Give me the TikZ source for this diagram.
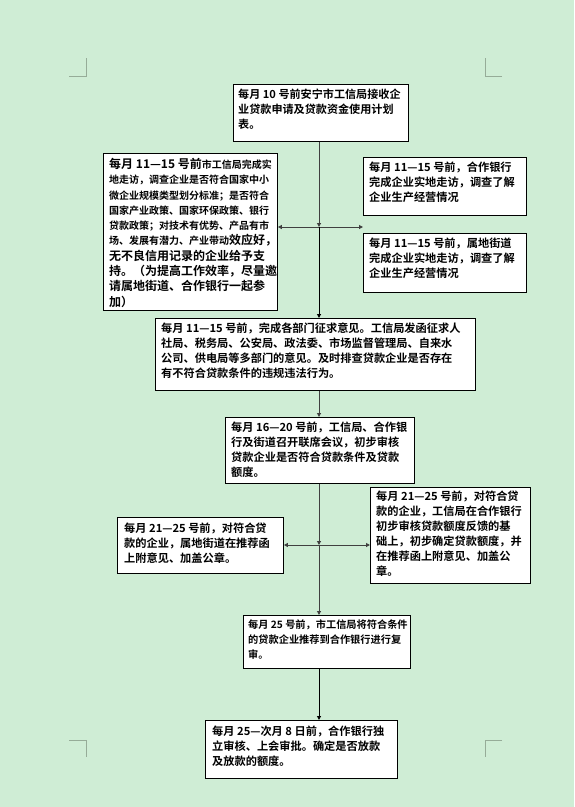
\documentclass[tikz,border=0pt]{standalone}
\usepackage{fontspec}
\newfontfamily\cjk{Noto Sans CJK SC}[BoldFont={Noto Sans CJK SC Bold}]
\usepackage{tikz}
\usetikzlibrary{arrows.meta,positioning,calc}

\definecolor{pagegreen}{RGB}{207,237,213}
\definecolor{markgray}{RGB}{150,172,152}

\begin{document}
\begin{tikzpicture}[
  x=1pt, y=-1pt,
  box/.style={rectangle, draw, line width=0.9pt, fill=white, anchor=north west,
              inner sep=0pt},
  txt/.style={anchor=north west, inner sep=0pt, align=left, text=black,
              font=\cjk\bfseries\fontsize{11.2}{15}\selectfont},
  arrow/.style={-{Triangle[length=4pt,width=4pt]}, line width=1pt, draw=black!75},
  cropmark/.style={draw=markgray, line width=0.6pt}
]
  % page and corner marks
  \fill[pagegreen] (0,0) rectangle (574,807);
  \useasboundingbox (0,0) rectangle (574,807);
  \draw[cropmark] (69,76) -- (86,76) -- (86,58);
  \draw[cropmark] (502,76) -- (485,76) -- (485,58);
  \draw[cropmark] (69,740) -- (86,740) -- (86,757);
  \draw[cropmark] (502,740) -- (485,740) -- (485,757);

  % boxes
  \node[box, minimum width=175pt, minimum height=57pt] (apply) at (233,84) {};
  \node[txt, font=\cjk\bfseries\fontsize{11.1}{15}\selectfont]
    at ([shift={(5pt,-5pt)}]apply.north west)
    {每月 10 号前安宁市工信局接收企\\业贷款申请及贷款资金使用计划\\表。};

  \node[box, minimum width=174pt, minimum height=157pt] (visit) at (103,153) {};
  \node[txt, font=\cjk\bfseries\fontsize{12}{15.3}\selectfont]
    at ([shift={(6pt,-5pt)}]visit.north west)
    {每月 11—15 号前{\fontsize{10}{15.3}\selectfont 市工信局完成实}\\
     {\fontsize{10}{15.3}\selectfont 地走访，调查企业是否符合国家中小}\\
     {\fontsize{10}{15.3}\selectfont 微企业规模类型划分标准；是否符合}\\
     {\fontsize{10}{15.3}\selectfont 国家产业政策、国家环保政策、银行}\\
     {\fontsize{10}{15.3}\selectfont 贷款政策；对技术有优势、产品有市}\\
     {\fontsize{10}{15.3}\selectfont 场、发展有潜力、产业带动}效应好，\\
     无不良信用记录的企业给予支\\
     持。（为提高工作效率，尽量邀\\
     请属地街道、合作银行一起参\\
     加）};

  \node[box, minimum width=163pt, minimum height=58pt] (bank) at (363,157) {};
  \node[txt] at ([shift={(6pt,-5pt)}]bank.north west)
    {每月 11—15 号前，合作银行\\完成企业实地走访，调查了解\\企业生产经营情况};

  \node[box, minimum width=163pt, minimum height=59pt] (street) at (363,233) {};
  \node[txt] at ([shift={(6pt,-5pt)}]street.north west)
    {每月 11—15 号前，属地街道\\完成企业实地走访，调查了解\\企业生产经营情况};

  \node[box, minimum width=320pt, minimum height=72pt] (consult) at (155,318) {};
  \node[txt] at ([shift={(6pt,-5pt)}]consult.north west)
    {每月 11—15 号前，完成各部门征求意见。工信局发函征求人\\
     社局、税务局、公安局、政法委、市场监督管理局、自来水\\
     公司、供电局等多部门的意见。及时排查贷款企业是否存在\\
     有不符合贷款条件的违规违法行为。};

  \node[box, minimum width=189pt, minimum height=66pt] (meeting) at (225,417) {};
  \node[txt] at ([shift={(6pt,-5pt)}]meeting.north west)
    {每月 16—20 号前，工信局、合作银\\行及街道召开联席会议，初步审核\\贷款企业是否符合贷款条件及贷款\\额度。};

  \node[box, minimum width=166pt, minimum height=56pt] (streetrec) at (117,517) {};
  \node[txt] at ([shift={(7pt,-6pt)}]streetrec.north west)
    {每月 21—25 号前，对符合贷\\款的企业，属地街道在推荐函\\上附意见、加盖公章。};

  \node[box, minimum width=160pt, minimum height=96pt] (bureaurec) at (370,487) {};
  \node[txt] at ([shift={(6pt,-4pt)}]bureaurec.north west)
    {每月 21—25 号前，对符合贷\\款的企业，工信局在合作银行\\初步审核贷款额度反馈的基\\础上，初步确定贷款额度，并\\在推荐函上附意见、加盖公\\章。};

  \node[box, minimum width=167pt, minimum height=53pt] (recommend) at (243,615) {};
  \node[txt, font=\cjk\bfseries\fontsize{10.2}{15}\selectfont]
    at ([shift={(5pt,-5pt)}]recommend.north west)
    {每月 25 号前，市工信局将符合条件\\的贷款企业推荐到合作银行进行复\\审。};

  \node[box, minimum width=192pt, minimum height=58pt] (final) at (205,720) {};
  \node[txt] at ([shift={(7pt,-6pt)}]final.north west)
    {每月 25—次月 8 日前，合作银行独\\立审核、上会审批。确定是否放款\\及放款的额度。};

  % connectors
  \coordinate (hubA) at (319,227);
  \coordinate (hubB) at (319,545);
  \draw[arrow] (hubA |- apply.south) -- (hubA);
  \draw[arrow] (hubA) -- (hubA -| visit.east);
  \draw[arrow] (hubA) -- (hubA -| bank.west);
  \draw[arrow, draw=black] (hubA) -- (hubA |- consult.north);
  \draw[arrow] (hubA |- consult.south) -- (hubA |- meeting.north);
  \draw[arrow] (hubB |- meeting.south) -- (hubB);
  \draw[arrow] (hubB) -- (hubB -| streetrec.east);
  \draw[arrow] (hubB) -- (hubB -| bureaurec.west);
  \draw[arrow] (hubB) -- (hubB |- recommend.north);
  \draw[arrow, draw=black] (hubB |- recommend.south) -- (hubB |- final.north);
\end{tikzpicture}
\end{document}
